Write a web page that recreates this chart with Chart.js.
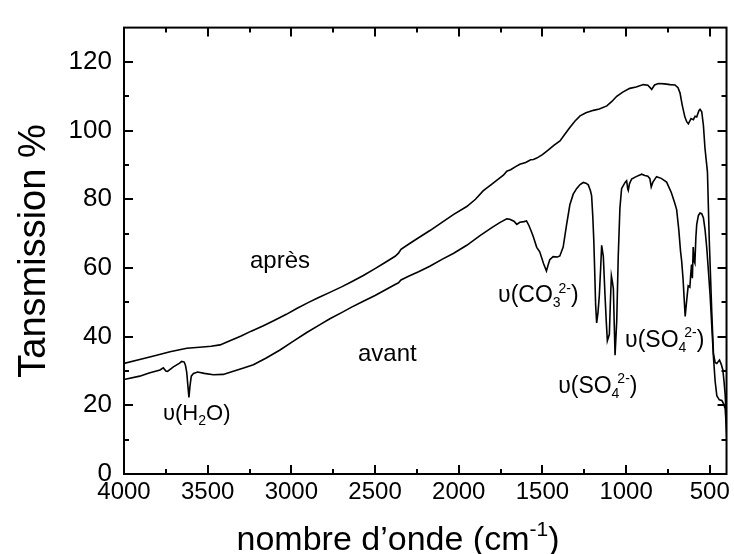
<!DOCTYPE html>
<html>
<head>
<meta charset="utf-8">
<title>Spectre IR avant / après</title>
<style>
  body { margin: 0; background: #fff; }
  #wrap { width: 734px; height: 554px; }
</style>
</head>
<body>
<div id="wrap"><canvas id="myChart" width="734" height="554"></canvas></div>
<script src="https://cdn.jsdelivr.net/npm/chart.js@4.4.0/dist/chart.umd.min.js"></script>
<script>
// nombre d'onde (cm-1) et transmission (%)
var waveApres = [4000, 3900, 3805, 3725, 3625, 3530, 3480, 3426, 3367, 3300, 3240, 3167, 3100, 3030, 2968, 2900, 2840, 2770, 2700, 2640,
  2570, 2500, 2440, 2380, 2360, 2345, 2300, 2240, 2172, 2100, 2030, 1952, 1900, 1853, 1800, 1760, 1733, 1713, 1690, 1660,
  1635, 1600, 1570, 1554, 1534, 1500, 1464, 1430, 1395, 1365, 1335, 1305, 1275, 1240, 1195, 1160, 1115, 1085, 1056, 1020,
  978, 940, 897, 870, 847, 830, 807, 770, 738, 708, 690, 678, 665, 649, 638, 628, 612, 598, 588, 578,
  565, 558, 548, 538, 529, 514, 503, 488, 478, 468, 458, 442, 432, 422, 415, 408, 403, 398];
var transApres = [32.2, 33.4, 34.6, 35.6, 36.6, 37.0, 37.2, 37.6, 38.8, 40.2, 41.6, 43.2, 44.8, 46.5, 48.2, 49.9, 51.3, 52.9, 54.5, 56.0,
  57.8, 59.8, 61.6, 63.4, 64.3, 65.4, 66.9, 68.8, 70.9, 73.3, 75.6, 77.9, 80.0, 82.5, 84.5, 86.0, 87.0, 88.2, 88.6, 89.5,
  90.2, 90.7, 91.5, 91.6, 92.0, 93.0, 94.4, 95.8, 97.0, 99.0, 101.0, 102.8, 104.3, 105.2, 105.9, 106.3, 107.2, 108.5, 110.0, 111.2,
  112.3, 112.7, 113.4, 113.2, 112.0, 113.3, 113.7, 113.6, 113.4, 113.3, 112.5, 111.0, 107.5, 104.0, 102.6, 102.0, 103.5, 103.2, 104.2, 104.0,
  105.8, 106.2, 105.5, 101.5, 95.0, 88.0, 68.0, 47.0, 35.0, 32.5, 32.2, 33.2, 32.0, 30.3, 27.0, 23.0, 18.0, 12.0];

var waveAvant = [4000, 3906, 3850, 3785, 3765, 3750, 3740, 3705, 3670, 3655, 3640, 3632, 3625, 3618, 3612, 3606, 3598, 3585, 3560, 3520,
  3466, 3407, 3347, 3290, 3227, 3150, 3068, 2990, 2908, 2829, 2770, 2700, 2640, 2570, 2500, 2440, 2380, 2360, 2345, 2300,
  2240, 2173, 2100, 2030, 1952, 1873, 1800, 1755, 1713, 1695, 1670, 1653, 1635, 1610, 1595, 1580, 1565, 1554, 1534, 1516,
  1494, 1476, 1465, 1456, 1436, 1410, 1396, 1376, 1356, 1336, 1316, 1296, 1275, 1256, 1240, 1226, 1213, 1206, 1199, 1193,
  1187, 1182, 1176, 1168, 1160, 1152, 1146, 1136, 1126, 1118, 1112, 1100, 1094, 1088, 1082, 1076, 1071, 1066, 1056, 1047,
  1037, 1027, 1017, 1005, 997, 990, 987, 980, 967, 940, 907, 888, 870, 858, 850, 840, 818, 790, 758, 730,
  710, 698, 685, 675, 668, 660, 653, 647, 641, 635, 629, 619, 614, 609, 604, 599, 594, 589, 583, 578,
  568, 558, 548, 538, 528, 518, 508, 498, 488, 478, 468, 458, 443, 428, 418, 408, 403, 398];
var transAvant = [27.5, 28.5, 29.4, 30.3, 30.9, 30.0, 29.9, 31.2, 32.2, 32.8, 32.6, 31.5, 29.5, 25.5, 22.3, 25.5, 28.5, 29.3, 29.7, 29.3,
  28.9, 29.0, 29.9, 30.8, 31.8, 33.8, 36.1, 38.6, 41.2, 43.5, 45.2, 47.0, 48.6, 50.3, 52.0, 53.6, 55.2, 55.7, 56.5, 57.6,
  58.9, 60.5, 62.5, 64.3, 66.6, 69.4, 71.8, 73.2, 74.3, 74.2, 73.6, 72.7, 73.3, 73.5, 73.7, 72.3, 70.5, 69.0, 66.0, 64.7,
  61.4, 59.1, 61.0, 62.4, 63.3, 63.2, 63.5, 66.1, 72.5, 78.4, 81.5, 83.1, 84.3, 84.9, 84.7, 84.2, 82.5, 81.0, 75.0, 68.0,
  58.0, 49.2, 44.0, 47.0, 52.0, 60.0, 66.6, 63.3, 52.0, 44.0, 38.8, 40.7, 50.0, 57.7, 56.0, 53.9, 44.0, 34.6, 44.5, 63.3,
  77.4, 83.1, 84.0, 85.0, 85.4, 83.0, 82.6, 84.5, 85.9, 86.6, 87.3, 86.9, 86.7, 86.0, 83.6, 85.0, 86.6, 86.1, 85.0, 82.0,
  79.0, 77.0, 71.0, 65.0, 62.0, 57.0, 51.0, 45.9, 49.0, 52.0, 54.8, 54.4, 58.0, 61.0, 57.0, 66.1, 62.0, 61.4, 69.0, 72.7,
  75.3, 76.0, 75.8, 74.6, 71.0, 65.8, 59.0, 52.0, 43.0, 34.0, 27.0, 22.8, 21.6, 21.4, 20.5, 19.0, 15.0, 9.6];

var xTicks = [4000, 3500, 3000, 2500, 2000, 1500, 1000, 500];
var yTicks = [0, 20, 40, 60, 80, 100, 120];

// textes posés sur le graphe (ancrés en coordonnées de données)
var notes = [
  { x: 3247, y: 59.9, size: 24, parts: [['après']] },
  { x: 2602, y: 32.8, size: 24, parts: [['avant']] },
  { x: 3767, y: 15.8, size: 22, parts: [['υ(H'], ['2', 'sub'], ['O)']] },
  { x: 1765, y: 50.0, size: 23, parts: [['υ(CO'], ['3', 'sub'], ['2-', 'sup'], [')']] },
  { x: 1406, y: 23.7, size: 23, parts: [['υ(SO'], ['4', 'sub'], ['2-', 'sup'], [')']] },
  { x: 1006, y: 37.0, size: 23, parts: [['υ(SO'], ['4', 'sub'], ['2-', 'sup'], [')']] }
];

var FONT = '"Liberation Sans", Arial, sans-serif';

function toXY(w, t) {
  return w.map(function (v, i) { return { x: v, y: t[i] }; });
}

// texte avec indices / exposants, renvoie la largeur
function richText(ctx, parts, x, y, size, draw) {
  var cx = x, subStart = null, subEnd = 0;
  parts.forEach(function (p) {
    var kind = p[1];
    if (kind === 'sub' || kind === 'sup') {
      ctx.font = Math.round(size * 0.62) + 'px ' + FONT;
      var w = ctx.measureText(p[0]).width;
      if (kind === 'sub') {
        if (draw) ctx.fillText(p[0], cx, y + size * 0.22);
        subStart = cx; subEnd = cx + w; cx += w;
      } else {
        var sx = subStart !== null ? subStart + size * 0.25 : cx;
        if (draw) ctx.fillText(p[0], sx, y - size * 0.42);
        cx = Math.max(subEnd, sx + w);
        subStart = null;
      }
    } else {
      ctx.font = size + 'px ' + FONT;
      if (draw) ctx.fillText(p[0], cx, y);
      cx += ctx.measureText(p[0]).width;
    }
  });
  return cx - x;
}

var frameAndText = {
  id: 'frameAndText',
  afterDraw: function (chart) {
    var ctx = chart.ctx, a = chart.chartArea;
    var xs = chart.scales.x, ys = chart.scales.y;
    ctx.save();
    ctx.strokeStyle = '#000';
    ctx.fillStyle = '#000';
    ctx.lineWidth = 2;
    ctx.strokeRect(a.left, a.top, a.right - a.left, a.bottom - a.top);

    // graduations vers l'intérieur, sur les 4 côtés
    ctx.beginPath();
    for (var v = 500; v <= 4000; v += 250) {
      var len = (v % 500 === 0) ? 9 : 5;
      var px = Math.round(xs.getPixelForValue(v));
      ctx.moveTo(px, a.bottom); ctx.lineTo(px, a.bottom - len);
      ctx.moveTo(px, a.top); ctx.lineTo(px, a.top + len);
    }
    for (var t = 10; t <= 120; t += 10) {
      var l2 = (t % 20 === 0) ? 9 : 5;
      var py = Math.round(ys.getPixelForValue(t));
      ctx.moveTo(a.left, py); ctx.lineTo(a.left + l2, py);
      ctx.moveTo(a.right, py); ctx.lineTo(a.right - l2, py);
    }
    ctx.stroke();

    // annotations
    ctx.textBaseline = 'alphabetic';
    ctx.textAlign = 'left';
    notes.forEach(function (n) {
      richText(ctx, n.parts, xs.getPixelForValue(n.x), ys.getPixelForValue(n.y), n.size, true);
    });

    // titre de l'axe x
    var xt = [['nombre d’onde (cm'], ['-1', 'sup'], [')']];
    var wx = richText(ctx, xt, 0, 0, 34, false);
    richText(ctx, xt, 398 - wx / 2, 550, 34, true);

    // titre de l'axe y
    ctx.translate(45, 251);
    ctx.rotate(-Math.PI / 2);
    ctx.font = '38px ' + FONT;
    ctx.textAlign = 'center';
    ctx.fillText('Tansmission %', 0, 0);
    ctx.restore();
  }
};

var ctx = document.getElementById('myChart').getContext('2d');
var chart = new Chart(ctx, {
  type: 'line',
  data: {
    datasets: [{
      label: 'après',
      data: toXY(waveApres, transApres),
      borderColor: '#000',
      borderWidth: 1.6,
      pointRadius: 0,
      fill: false,
      tension: 0
    }, {
      label: 'avant',
      data: toXY(waveAvant, transAvant),
      borderColor: '#000',
      borderWidth: 1.6,
      pointRadius: 0,
      fill: false,
      tension: 0
    }]
  },
  options: {
    responsive: false,
    animation: false,
    devicePixelRatio: 1,
    layout: { padding: { top: 14, right: 7, left: 0, bottom: 0 } },
    plugins: { legend: { display: false }, tooltip: { enabled: false } },
    scales: {
      x: {
        type: 'linear',
        reverse: true,
        min: 400,
        max: 4000,
        grid: { display: false, drawTicks: false },
        border: { display: false },
        afterBuildTicks: function (s) { s.ticks = xTicks.map(function (v) { return { value: v }; }); },
        afterFit: function (s) { s.height = 80; },
        ticks: {
          color: '#000', padding: 4, maxRotation: 0, font: { family: FONT, size: 24 },
          callback: function (v) { return String(v); }
        }
      },
      y: {
        min: 0,
        max: 130,
        grid: { display: false, drawTicks: false },
        border: { display: false },
        afterBuildTicks: function (s) { s.ticks = yTicks.map(function (v) { return { value: v }; }); },
        afterFit: function (s) { s.width = 124; },
        ticks: {
          color: '#000', padding: 12, font: { family: FONT, size: 26 },
          callback: function (v) { return String(v); }
        }
      }
    }
  },
  plugins: [frameAndText]
});
</script>
</body>
</html>
